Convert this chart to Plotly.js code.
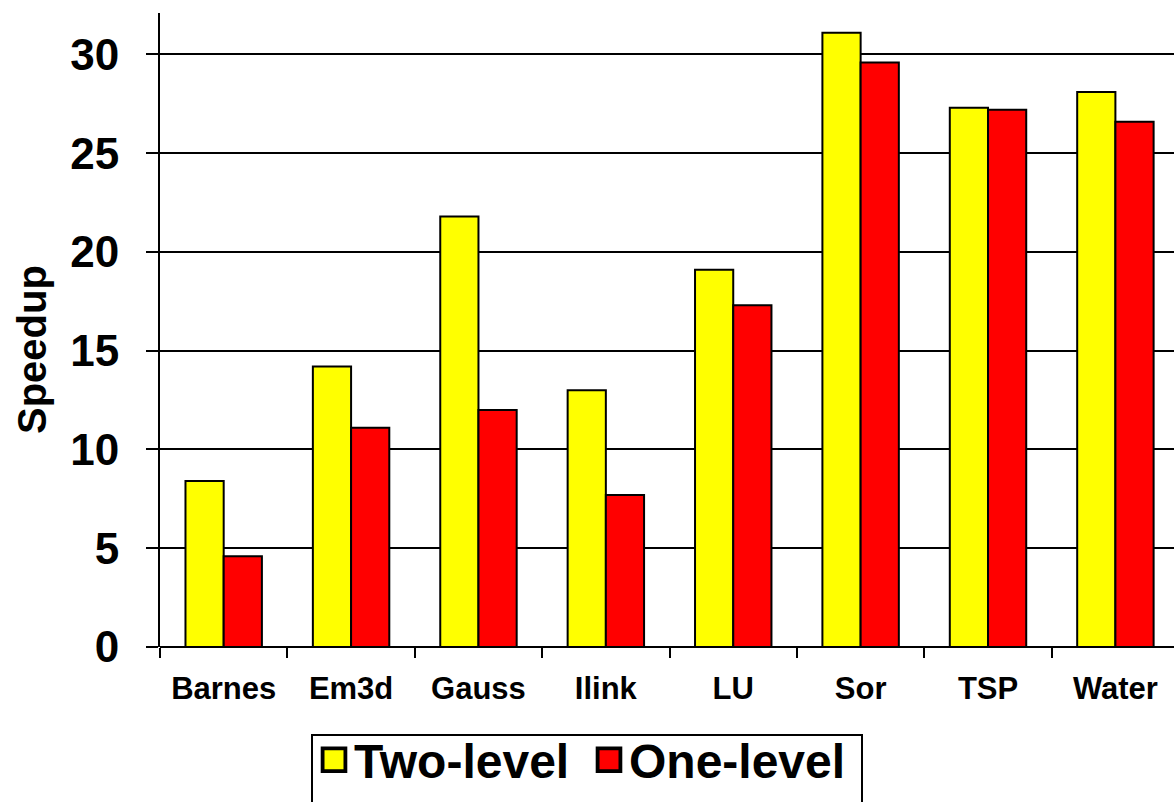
<!DOCTYPE html>
<html>
<head>
<meta charset="utf-8">
<script src="https://cdn.plot.ly/plotly-3.0.1.min.js"></script>
<style>html,body{margin:0;padding:0;background:#fff;}#chart{width:1174px;height:802px;}</style>
</head>
<body>
<div id="chart"></div>
<script>
const categories = ["Barnes", "Em3d", "Gauss", "Ilink", "LU", "Sor", "TSP", "Water"];
const twoLevel = [8.4, 14.2, 21.8, 13.0, 19.1, 31.1, 27.3, 28.1];
const oneLevel = [4.6, 11.1, 12.0, 7.7, 17.3, 29.6, 27.2, 26.6];
const seriesNames = ["Two-level", "One-level"];
const yTicks = [0, 5, 10, 15, 20, 25, 30];
const yTitle = "Speedup";

const FONT = "Liberation Sans, Arial, Helvetica, sans-serif";
const W = 1174, H = 802, ML = 160, MT = 13, MB = 155;
const PW = W - ML, PH = H - MT - MB;
const px2x = function (px) { return (px - ML) / PW; };
const px2y = function (py) { return (H - MB - py) / PH; };

const traces = [
  {type: "bar", name: seriesNames[0], x: categories, y: twoLevel,
   marker: {color: "#FFFF00", line: {color: "#000000", width: 2}}},
  {type: "bar", name: seriesNames[1], x: categories, y: oneLevel,
   marker: {color: "#FF0000", line: {color: "#000000", width: 2}}}
];

const layout = {
  width: W, height: H,
  paper_bgcolor: "#ffffff", plot_bgcolor: "#ffffff",
  margin: {l: ML, r: 0, t: MT, b: MB, autoexpand: false},
  barmode: "group", bargap: 0.40, bargroupgap: 0,
  showlegend: true,
  legend: {
    orientation: "h", xref: "container", yref: "container",
    x: 314 / W, xanchor: "left", y: 1 - 722 / H, yanchor: "top",
    bgcolor: "rgba(0,0,0,0)", bordercolor: "rgba(0,0,0,0)", borderwidth: 0,
    font: {family: FONT, size: 48, color: "#000", weight: "bold"},
    itemwidth: 30, entrywidth: 230, traceorder: "normal"
  },
  xaxis: {
    type: "category", range: [-0.5, 7.46], fixedrange: true,
    showline: false, showgrid: false, zeroline: false,
    ticks: "outside", tickson: "boundaries", ticklen: 10, tickwidth: 2, tickcolor: "#000",
    ticklabelstandoff: 20,
    tickfont: {family: FONT, size: 31, color: "#000", weight: "bold"}
  },
  yaxis: {
    range: [0, 32.1], fixedrange: true,
    tickvals: yTicks, ticktext: yTicks.map(String),
    showline: true, linecolor: "#000", linewidth: 2,
    showgrid: true, gridcolor: "#000", gridwidth: 2,
    zeroline: true, zerolinecolor: "#000", zerolinewidth: 2,
    ticks: "outside", ticklen: 12, tickwidth: 2, tickcolor: "#000",
    ticklabelstandoff: 18,
    tickfont: {family: FONT, size: 44, color: "#000", weight: "bold"}
  },
  shapes: [{
    type: "rect", xref: "paper", yref: "paper", layer: "above",
    x0: px2x(312), x1: px2x(862), y0: px2y(735), y1: px2y(830),
    line: {color: "#000", width: 2}, fillcolor: "rgba(0,0,0,0)"
  }],
  annotations: [{
    text: yTitle, textangle: -90, showarrow: false,
    xref: "paper", yref: "paper", x: px2x(32), y: px2y(350),
    xanchor: "center", yanchor: "middle",
    font: {family: FONT, size: 40, color: "#000", weight: "bold"}
  }]
};

Plotly.newPlot("chart", traces, layout, {displayModeBar: false, staticPlot: true}).then(function () {
  document.querySelectorAll(".legend .legendpoints path").forEach(function (p) {
    const t = p.getAttribute("transform") || "";
    p.setAttribute("transform", t + " scale(1.9)");
  });
});
</script>
</body>
</html>
